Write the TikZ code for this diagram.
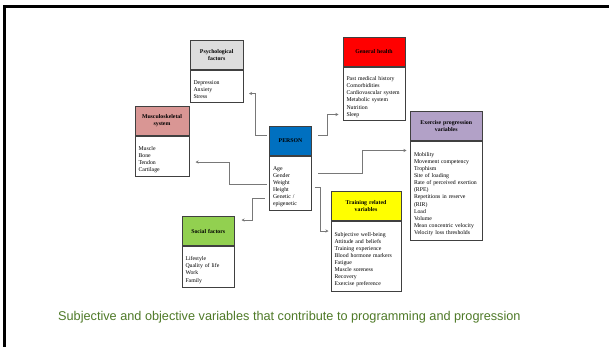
\documentclass[tikz,border=0pt]{standalone}
\usepackage{fontspec}
\setmainfont{Liberation Serif}
\setsansfont{Liberation Sans}
\usepackage{tikz}
\usetikzlibrary{positioning, arrows.meta}
\tikzstyle{diagram} = [x = 1pt, y = -1pt]
\definecolor{boxColor}{RGB}{64,64,64}
\definecolor{linkColor}{RGB}{120,120,120}
\definecolor{captionColor}{RGB}{79,122,40}
\definecolor{psychColor}{RGB}{221,221,221}
\definecolor{healthColor}{RGB}{255,0,0}
\definecolor{muscColor}{RGB}{217,150,148}
\definecolor{personColor}{RGB}{0,112,192}
\definecolor{exerciseColor}{RGB}{178,161,199}
\definecolor{socialColor}{RGB}{146,208,80}
\definecolor{trainingColor}{RGB}{255,255,0}
\tikzstyle{headStyle} = [draw=boxColor, line width=1pt, minimum height=29pt, inner xsep=3.5pt, inner ysep=0pt, align=center, font=\fontsize{5.8}{7}\selectfont\bfseries]
\tikzstyle{bodyStyle} = [draw=boxColor, line width=1pt, inner xsep=3.5pt, inner ysep=0pt, align=left, font=\fontsize{5.8}{7.1}\selectfont]
\tikzstyle{linkStyle} = [color=linkColor, line width=.8pt, -{Stealth[length=3pt, width=3pt]}]
\tikzstyle{frameStyle} = [color=black, line width=3pt]
\tikzstyle{captionStyle} = [color=captionColor, inner sep=0pt, font=\fontsize{12.7}{15}\selectfont\sffamily]
\newcommand{\factorBox}[8]{
  \pgfmathsetmacro{\centerX}{#2 + #4 / 2}
  \pgfmathsetmacro{\textWidth}{#4 - 7}
  \node [headStyle, fill=#6, minimum width=#4pt, text width=\textWidth pt, anchor=north] (#1-head) at (\centerX, #3) {#7};
  \node [bodyStyle, minimum width=#4pt, minimum height=#5pt, text width=\textWidth pt, anchor=north] (#1) at (#1-head.south) {\rule{0pt}{10pt}#8};
}

\begin{document}
\begin{tikzpicture}[diagram]
          \useasboundingbox [fill=white] (0,0) rectangle (609,346);
          \draw [frameStyle] (620,6.7) -- (4.3,6.7) -- (4.3,360);

          \factorBox{psych}{190}{40}{53.5}{32}{psychColor}{Psychological\\factors}{Depression\\Anxiety\\Stress}
          \factorBox{health}{343}{37}{62}{53}{healthColor}{General health}{Past medical history\\Comorbidities\\Cardiovascular system\\Metabolic system\\Nutrition\\Sleep}
          \factorBox{musc}{135}{106}{54}{40}{muscColor}{Musculoskeletal\\system}{Muscle\\Bone\\Tendon\\Cartilage}
          \factorBox{person}{269.5}{126}{42}{54}{personColor}{PERSON}{Age\\Gender\\Weight\\Height\\Genetic /\\epigenetic}
          \factorBox{exercise}{410.5}{111}{71.5}{99}{exerciseColor}{Exercise progression\\variables}{Mobility\\Movement competency\\Trophism\\Site of loading\\Rate of perceived exertion\\(RPE)\\Repetitions in reserve\\(RIR)\\Load\\Volume\\Mean concentric velocity\\Velocity loss thresholds}
          \factorBox{social}{182}{216}{52.5}{41}{socialColor}{Social factors}{Lifestyle\\Quality of life\\Work\\Family}
          \factorBox{training}{331}{191}{70}{70}{trainingColor}{Training related\\variables}{Subjective well-being\\Attitude and beliefs\\Training experience\\Blood hormone markers\\Fatigue\\Muscle soreness\\Recovery\\Exercise preference}

          \draw [linkStyle] ([xshift=-2.5pt, yshift=6pt]person-head.west) -- ++(-11,0) |- ([xshift=5pt, yshift=-7pt]psych.east);
          \draw [linkStyle] ([xshift=-2.5pt, yshift=-1pt]person.west) -- ++(-37.5,0) |- ([xshift=6pt, yshift=-5.5pt]musc.east);
          \draw [linkStyle] ([xshift=-4.5pt, yshift=-15pt]person.west) -- ++(-12,0) |- ([xshift=6.5pt, yshift=11pt]social-head.east);
          \draw [linkStyle] ([xshift=2.5pt, yshift=-4pt]person.east) -- ++(6,0) |- ([xshift=-2pt, yshift=25.5pt]training.west);
          \draw [linkStyle] ([xshift=6pt, yshift=6pt]person-head.east) -- ++(9.5,0) |- ([xshift=-4pt, yshift=-20.5pt]health.west);
          \draw [linkStyle] ([xshift=6pt, yshift=10pt]person.east) -- ++(44.5,0) |- ([xshift=-3.5pt, yshift=40.5pt]exercise.west);

          \node [captionStyle, anchor=base west] (caption) at (58,320) {Subjective and objective variables that contribute to programming and progression};
        \end{tikzpicture}
\end{document}
